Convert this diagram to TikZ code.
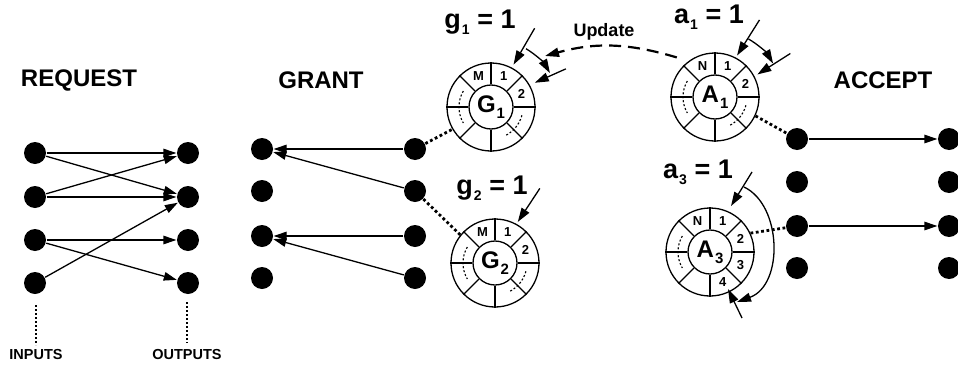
\documentclass[tikz,border=0pt]{standalone}
\usepackage{fontspec}
\setmainfont{Liberation Sans}
\usetikzlibrary{arrows.meta,calc}
\newcommand{\bigsub}[3][13]{#2\hspace{1pt}\raisebox{-6pt}{\fontsize{#1}{#1}\selectfont #3}}
\begin{document}
\begin{tikzpicture}[x=1pt,y=1pt,line width=1.3pt,
  dot/.style={circle,fill=black,inner sep=0pt,minimum size=22pt},
  arr/.style={-{Triangle[length=13pt,width=8.5pt]}},
  ptr/.style={-{Triangle[length=14pt,width=9pt]}},
  dotconn/.style={line width=2.8pt,dash pattern=on 2.8pt off 2.6pt},
  thindot/.style={line width=1.1pt,dash pattern=on 2pt off 2pt},
  ringdot/.style={line width=1.1pt,dash pattern=on 2pt off 2pt},
  outer/.style={circle,draw,inner sep=0pt,minimum size=88pt},
  inner/.style={circle,draw,inner sep=0pt,minimum size=44pt,font=\bfseries\fontsize{24}{24}\selectfont},
  seg/.style={font=\bfseries\fontsize{13}{13}\selectfont,inner sep=0pt},
  title/.style={font=\bfseries\fontsize{24}{24}\selectfont},
  eqlab/.style={font=\bfseries\fontsize{27}{27}\selectfont},
  small/.style={font=\bfseries\fontsize{14.5}{14.5}\selectfont}]
\useasboundingbox (0,0) rectangle (958,-367);

% titles
\node[title] (treq) at (79,-80) {REQUEST};
\node[title] (tgr) at (321,-80) {GRANT};
\node[title] (tacc) at (883,-80) {ACCEPT};

% REQUEST
\foreach \i/\y in {1/153,2/197,3/240,4/283}{
  \node[dot] (ri\i) at (35,-\y) {};
  \node[dot] (ro\i) at (188,-\y) {};
}
\draw[arr] (ri1) -- (ro1);
\draw[arr] (ri1) -- (ro2);
\draw[arr] (ri2) -- (ro1);
\draw[arr] (ri2) -- (ro2);
\draw[arr] (ri3) -- (ro3);
\draw[arr] (ri3) -- (ro4);
\draw[arr] (ri4) -- (ro2);
\coordinate (inT) at (36,-305); \coordinate (inB) at (36,-345);
\coordinate (outT) at (187,-302); \coordinate (outB) at (187,-343);
\draw[thindot] (inT) -- (inB);
\draw[thindot] (outT) -- (outB);
\node[small] (inlab) at (36,-355) {INPUTS};
\node[small] (outlab) at (187,-355) {OUTPUTS};

% GRANT
\foreach \i/\y in {1/149,2/191,3/236,4/278}{
  \node[dot] (gl\i) at (262,-\y) {};
  \node[dot] (gr\i) at (415,-\y) {};
}
\draw[arr] (gr1) -- (gl1);
\draw[arr] (gr2) -- (gl1);
\draw[arr] (gr3) -- (gl3);
\draw[arr] (gr4) -- (gl3);

% ACCEPT
\foreach \i/\y in {1/139,2/182,3/226,4/268}{
  \node[dot] (al\i) at (797,-\y) {};
  \node[dot] (ar\i) at (949,-\y) {};
}
\draw[arr] (al1) -- (ar1);
\draw[arr] (al3) -- (ar3);

% rings
\node[outer] (G1) at (491,-107) {};
\node[inner] (G1c) at (G1) {\bigsub[15]{G}{1}};
\node[outer] (A1) at (715,-97) {};
\node[inner] (A1c) at (A1) {\bigsub[15]{A}{1}};
\node[outer] (G2) at (495,-263) {};
\node[inner] (G2c) at (G2) {\bigsub[15]{G}{2}};
\node[outer] (A3) at (710,-252) {};
\node[inner] (A3c) at (A3) {\bigsub[15]{A}{3}};
\foreach \r in {G1,A1,G2,A3}{
  \foreach \a in {0,45,...,315}{\draw (\r c.\a) -- (\r.\a);}
  \draw[ringdot] ($(\r)+(150:32)$) arc[start angle=150,end angle=210,radius=32];
}
\foreach \r in {G1,A1,G2}{
  \draw[ringdot] ($(\r)+(-15:32)$) arc[start angle=-15,end angle=-65,radius=32];
}
\foreach \r/\l in {G1/M,G2/M,A1/N,A3/N}{
  \node[seg] at ($(\r)+(112:33)$) {\l};
  \node[seg] at ($(\r)+(67.5:33)$) {1};
  \node[seg] at ($(\r)+(22.5:33)$) {2};
}
\node[seg] at ($(A3)+(-22.5:33)$) {3};
\node[seg] at ($(A3)+(-67.5:33)$) {4};

% labels
\node[eqlab] (g1lab) at (480,-22) {\bigsub[14]{g}{1} = 1};
\node[eqlab] (a1lab) at (709,-17) {\bigsub[14]{a}{1} = 1};
\node[eqlab] (g2lab) at (492,-188) {\bigsub[14]{g}{2} = 1};
\node[eqlab] (a3lab) at (698,-172) {\bigsub[14]{a}{3} = 1};
\node[font=\bfseries\fontsize{18}{18}\selectfont] (upd) at (604,-32) {Update};

% pointers G1
\coordinate (g1p1s) at ($(G1)+(61:90)$); \coordinate (g1p1e) at ($(G1)+(62:48)$);
\coordinate (g1p2s) at ($(G1)+(27:84)$); \coordinate (g1p2e) at ($(G1)+(29:50)$);
\coordinate (g1as) at ($(G1)+(59:68)$);
\draw[ptr] (g1p1s) -- (g1p1e);
\draw[ptr] (g1p2s) -- (g1p2e);
\draw[ptr] (g1as) arc[start angle=59,end angle=30,radius=68];
% pointers A1
\coordinate (a1p1s) at ($(A1)+(60:89)$); \coordinate (a1p1e) at ($(A1)+(62:47)$);
\coordinate (a1p2s) at ($(A1)+(30:87)$); \coordinate (a1p2e) at ($(A1)+(28:48)$);
\coordinate (a1as) at ($(A1)+(60:67)$);
\draw[ptr] (a1p1s) -- (a1p1e);
\draw[ptr] (a1p2s) -- (a1p2e);
\draw[ptr] (a1as) arc[start angle=60,end angle=30,radius=67];
% pointer G2
\coordinate (g2p1s) at ($(G2)+(59:87)$); \coordinate (g2p1e) at ($(G2)+(61:47)$);
\draw[ptr] (g2p1s) -- (g2p1e);
% pointers A3
\coordinate (a3p1s) at (752,-172); \coordinate (a3p1e) at (731,-206);
\coordinate (a3p4s) at (742,-318); \coordinate (a3p4e) at (728,-289);
\coordinate (a3as) at (744,-187); \coordinate (a3ae) at (737,-302);
\coordinate (a3c1) at (782,-205); \coordinate (a3c2) at (784,-285);
\draw[ptr] (a3p1s) -- (a3p1e);
\draw[ptr] (a3p4s) -- (a3p4e);
\draw[ptr] (a3as) .. controls (a3c1) and (a3c2) .. (a3ae);

% update
\coordinate (updS) at ($(A1)+(134:55)$);
\coordinate (updE) at (545,-56);
\draw[-{Triangle[length=14pt,width=9pt]},line width=2.2pt,dash pattern=on 12pt off 7pt] (updS) to[bend right=16] (updE);

% dotted connectors
\draw[dotconn] (gr1) -- (G1.210);
\draw[dotconn] (gr2) -- (G2.141);
\draw[dotconn] (A1.-25) -- (al1);
\draw[dotconn] (A3.25) -- (al3);
\end{tikzpicture}
\end{document}
